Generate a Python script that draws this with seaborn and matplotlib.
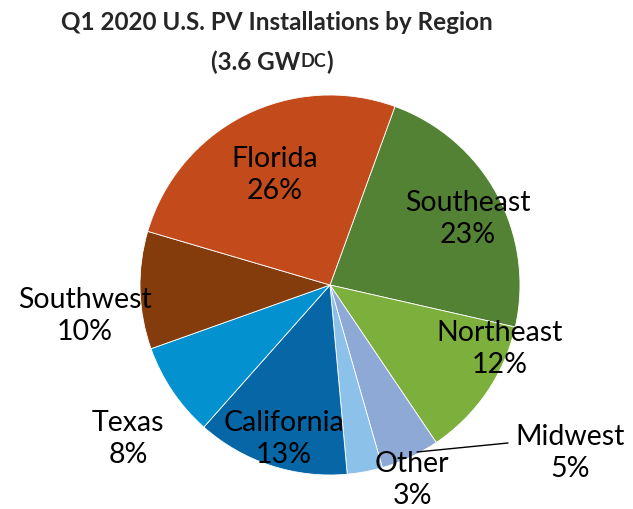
import matplotlib
matplotlib.use("Agg")
import matplotlib.pyplot as plt
import seaborn as sns

# dados
regioes = ["Southeast", "Northeast", "Midwest", "Other", "California", "Texas", "Southwest", "Florida"]
percentuais = [23, 12, 5, 3, 13, 8, 10, 26]
cores = ["#548235", "#7DAF3C", "#8EA9D6", "#8CC1EA", "#0766A6", "#0391CF", "#843C0C", "#C34B1B"]

sns.set_theme(style="white")
plt.rcParams["font.family"] = ["Lato", "DejaVu Sans"]

W, H = 633, 509
fig = plt.figure(figsize=(W / 100, H / 100), dpi=100)
ax = fig.add_axes([0, 0, 1, 1])

# pizza (coordenadas em pixels, y invertido)
ax.pie(percentuais, colors=cores, startangle=70, counterclock=False,
       center=(330, H - 285), radius=190, frame=True,
       wedgeprops=dict(linewidth=0.6, edgecolor="white"))
ax.set_xlim(0, W)
ax.set_ylim(0, H)
ax.axis("off")

# rotulos
pos_rotulos = {
    "Florida": (275, 175), "Southeast": (468, 219), "Northeast": (500, 349),
    "Southwest": (85, 316), "Texas": (128, 439), "California": (284, 439),
    "Other": (412, 480), "Midwest": (570, 453),
}
for nome, p in zip(regioes, percentuais):
    x, y = pos_rotulos[nome]
    ax.text(x, H - y, f"{nome}\n{p}%", ha="center", va="center",
            fontsize=20.5, linespacing=1.3, color="black")

# linha do Midwest
ax.plot([417, 508], [H - 452, H - 443], color="black", lw=1)

# titulo
ax.text(277, H - 22, "Q1 2020 U.S. PV Installations by Region", ha="center",
        va="center", fontsize=17.5, fontweight="bold")
partes = [("(3.6 GW", 17.5), ("DC", 13), (")", 17.5)]
r = fig.canvas.get_renderer()
objs = []
x = 0
for s, fs in partes:
    t = ax.text(x, H - 60, s, ha="left", va="center_baseline", fontsize=fs, fontweight="bold")
    bb = t.get_window_extent(renderer=r)
    objs.append((t, bb.width))
    x += bb.width
x0 = 272 - x / 2
for t, w in objs:
    t.set_x(x0)
    x0 += w

fig.savefig("out.png", dpi=100)
